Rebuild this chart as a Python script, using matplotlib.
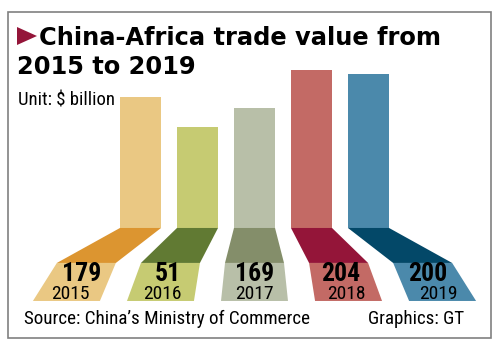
import numpy as np
import matplotlib
matplotlib.use('Agg')
import matplotlib.pyplot as plt
from matplotlib.patches import Polygon, Rectangle
from matplotlib import font_manager

# data
years = ['2015', '2016', '2017', '2018', '2019']
values = [179, 151, 169, 204, 200]           # bar heights, $ billion
value_labels = ['179', '51', '169', '204', '200']  # printed as in the original
light_colors = ['#EAC883', '#C6CB72', '#B8BFA8', '#C36A65', '#4B89AB']
dark_colors = ['#DC9530', '#617A33', '#848E6A', '#941539', '#034868']

# pick a narrow font if one is there
names = {f.name for f in font_manager.fontManager.ttflist}
narrow = next((n for n in ['Liberation Sans Narrow', 'Roboto Condensed',
                           'Open Sans Condensed'] if n in names), 'Liberation Sans')
plt.rcParams['font.family'] = [narrow, 'DejaVu Sans']

W, H = 500, 350
def fx(px): return px / W
def fy(py): return 1 - py / H

fig = plt.figure(figsize=(5, 3.5), dpi=100)
ax = fig.add_axes([0, 0, 1, 1])
ax.set_xlim(-2.465, 6.307)
ax.set_ylim(-55.3, 268.8)
ax.axis('off')

base = 57.7      # bars are cut off here
bw = 0.72
x = np.arange(len(years))
ax.bar(x, np.array(values) - base, bottom=base, width=bw, color=light_colors, lw=0)

# folded ribbon under each bar, fanning out
d1, d2 = 32.4, 67.6
w1, w2 = 1.035, 1.175
for i in x:
    c = x[i]
    c1 = c + 0.475 * (i - 2)
    c2 = c + 0.65 * (i - 2)
    dark = [(c - bw / 2, base), (c + bw / 2, base),
            (c1 + w1 / 2, base - d1), (c1 - w1 / 2, base - d1)]
    light = [(c1 - w1 / 2, base - d1), (c1 + w1 / 2, base - d1),
             (c2 + w2 / 2, base - d2), (c2 - w2 / 2, base - d2)]
    ax.add_patch(Polygon(dark, closed=True, fc=dark_colors[i], lw=0))
    ax.add_patch(Polygon(light, closed=True, fc=light_colors[i], lw=0))
    ax.text(c1 + (c2 - c1) * 0.24, 8.6, value_labels[i], ha='center', va='baseline',
            fontsize=18.5, fontweight='bold', color='black')
    ax.text(c1 + (c2 - c1) * 0.79, -8.3, years[i], ha='center', va='baseline',
            fontsize=14, color='black')

# title, unit, footer
title_font = dict(family='DejaVu Sans', fontsize=17.4, fontweight='bold',
                  va='baseline', ha='left')
fig.text(fx(39), fy(45), 'China-Africa trade value from', **title_font)
fig.text(fx(17), fy(74), '2015 to 2019', **title_font)
fig.add_artist(Polygon([(fx(17), fy(27)), (fx(17), fy(45)), (fx(37), fy(36))],
                       closed=True, fc='#941539', lw=0, transform=fig.transFigure))
fig.text(fx(18), fy(105), 'Unit: $ billion', fontsize=13.5, va='baseline', ha='left')
fig.text(fx(24), fy(324), 'Source: China\u2019s Ministry of Commerce', fontsize=13.7,
         va='baseline', ha='left')
fig.text(fx(464), fy(324), 'Graphics: GT', fontsize=13.7, va='baseline', ha='right')

# frame
fig.add_artist(Rectangle((fx(8), fy(338)), (491 - 8) / W, (338 - 12) / H,
                         transform=fig.transFigure, fill=False, ec='#808080', lw=1.2))

fig.savefig('out.png', dpi=100)
